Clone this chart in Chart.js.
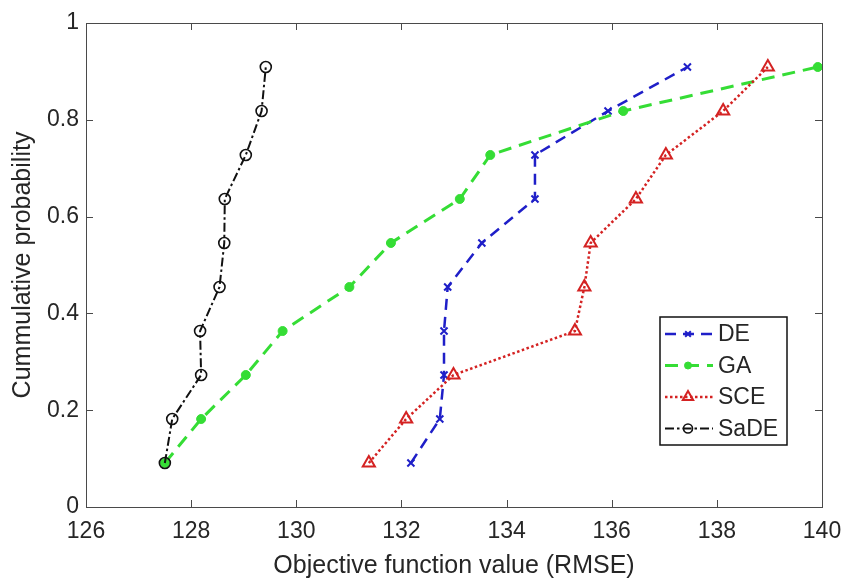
<!DOCTYPE html>
<html>
<head>
<meta charset="utf-8">
<script src="https://cdn.jsdelivr.net/npm/chart.js@4.4.1/dist/chart.umd.min.js"></script>
<style>
  html, body { margin: 0; padding: 0; background: #fff; }
</style>
</head>
<body>
<canvas id="cdfChart" width="844" height="581"></canvas>
<script>
// cumulative probability levels (k/11)
const probs = [0.0909, 0.1818, 0.2727, 0.3636, 0.4545, 0.5455, 0.6364, 0.7273, 0.8182, 0.9091];
// objective function values
const deVals   = [132.18, 132.73, 132.81, 132.81, 132.88, 133.53, 134.54, 134.54, 135.93, 137.44];
const gaVals   = [127.50, 128.19, 129.04, 129.74, 131.01, 131.80, 133.11, 133.69, 136.22, 139.92];
const sceVals  = [131.38, 132.09, 132.99, 135.30, 135.48, 135.60, 136.46, 137.03, 138.12, 138.97];
const sadeVals = [127.50, 127.64, 128.19, 128.17, 128.54, 128.63, 128.64, 129.04, 129.34, 129.42];

const seriesNames = ['DE', 'GA', 'SCE', 'SaDE'];
const xTicks = [126, 128, 130, 132, 134, 136, 138, 140];
const yTicks = [0, 0.2, 0.4, 0.6, 0.8, 1];

const fontFam = '"Liberation Sans", Arial, Helvetica, sans-serif';
const axisColor = '#4a4a4a';
const textColor = '#262626';

function pts(xs) {
  return xs.map((v, i) => ({ x: v, y: probs[i] }));
}

// box around the axes with MATLAB-like inward ticks on all four sides
const frame = {
  id: 'frame',
  afterDatasetsDraw(chart) {
    const { ctx, chartArea: a, scales } = chart;
    ctx.save();
    ctx.strokeStyle = axisColor;
    ctx.lineWidth = 1;
    ctx.setLineDash([]);
    ctx.strokeRect(a.left + 0.5, a.top + 0.5, a.right - a.left, a.bottom - a.top);
    ctx.beginPath();
    xTicks.forEach(v => {
      const px = Math.round(scales.x.getPixelForValue(v)) + 0.5;
      ctx.moveTo(px, a.bottom); ctx.lineTo(px, a.bottom - 7);
      ctx.moveTo(px, a.top); ctx.lineTo(px, a.top + 7);
    });
    yTicks.forEach(v => {
      const py = Math.round(scales.y.getPixelForValue(v)) + 0.5;
      ctx.moveTo(a.left, py); ctx.lineTo(a.left + 7, py);
      ctx.moveTo(a.right, py); ctx.lineTo(a.right - 7, py);
    });
    ctx.stroke();
    ctx.restore();
  }
};

// boxed legend inside the lower right of the plot
const boxLegend = {
  id: 'boxLegend',
  afterDraw(chart) {
    const { ctx, chartArea: a } = chart;
    const w = 127, h = 128;
    const x0 = a.right - 35 - w;
    const y0 = a.top + 294;
    ctx.save();
    ctx.fillStyle = '#fff';
    ctx.fillRect(x0, y0, w, h);
    ctx.strokeStyle = '#111';
    ctx.lineWidth = 1.5;
    ctx.strokeRect(x0, y0, w, h);
    chart.data.datasets.forEach((ds, i) => {
      const cy = y0 + 17 + i * 31.5;
      ctx.strokeStyle = ds.borderColor;
      ctx.lineWidth = ds.borderWidth;
      ctx.setLineDash(ds.borderDash || []);
      ctx.beginPath();
      ctx.moveTo(x0 + 5, cy);
      ctx.lineTo(x0 + 53, cy);
      ctx.stroke();
      ctx.setLineDash([]);
      ctx.strokeStyle = ds.pointBorderColor;
      ctx.fillStyle = ds.pointBackgroundColor;
      ctx.lineWidth = ds.pointBorderWidth;
      Chart.helpers.drawPoint(ctx, {
        pointStyle: ds.pointStyle,
        rotation: 0,
        radius: ds.pointRadius - 1,
        borderWidth: ds.pointBorderWidth
      }, x0 + 28, cy);
      ctx.fillStyle = textColor;
      ctx.font = '23px ' + fontFam;
      ctx.textBaseline = 'middle';
      ctx.fillText(ds.label, x0 + 58, cy + 1);
    });
    ctx.restore();
  }
};

const ctx = document.getElementById('cdfChart').getContext('2d');
new Chart(ctx, {
  type: 'line',
  data: {
    datasets: [
      {
        label: seriesNames[0],
        data: pts(deVals),
        borderColor: '#1f1fc8',
        borderWidth: 2.5,
        borderDash: [11, 7],
        pointStyle: 'crossRot',
        pointRadius: 5,
        pointBorderWidth: 2,
        pointBorderColor: '#1f1fc8',
        pointBackgroundColor: '#1f1fc8',
        order: 4
      },
      {
        label: seriesNames[1],
        data: pts(gaVals),
        borderColor: '#35dd35',
        borderWidth: 3,
        borderDash: [13, 8],
        pointStyle: 'circle',
        pointRadius: 4.5,
        pointBorderWidth: 1,
        pointBorderColor: '#35dd35',
        pointBackgroundColor: '#35dd35',
        order: 3
      },
      {
        label: seriesNames[2],
        data: pts(sceVals),
        borderColor: '#d42222',
        borderWidth: 2.5,
        borderDash: [2.5, 2.5],
        pointStyle: 'triangle',
        pointRadius: 7,
        pointBorderWidth: 2,
        pointBorderColor: '#d42222',
        pointBackgroundColor: 'rgba(255,255,255,0)',
        order: 2
      },
      {
        label: seriesNames[3],
        data: pts(sadeVals),
        borderColor: '#111111',
        borderWidth: 2,
        borderDash: [9, 3, 2.5, 3],
        pointStyle: 'circle',
        pointRadius: 5.5,
        pointBorderWidth: 1.6,
        pointBorderColor: '#111111',
        pointBackgroundColor: 'rgba(255,255,255,0)',
        order: 1
      }
    ]
  },
  options: {
    responsive: false,
    animation: false,
    layout: { padding: { left: 0, right: 22, top: 23, bottom: 0 } },
    plugins: {
      legend: { display: false },
      tooltip: { enabled: false }
    },
    elements: { line: { tension: 0, fill: false } },
    scales: {
      x: {
        type: 'linear',
        min: 126,
        max: 140,
        afterBuildTicks: s => { s.ticks = xTicks.map(v => ({ value: v })); },
        afterFit: s => { s.height = 74; s.paddingLeft = 0; s.paddingRight = 0; },
        grid: { display: false, drawTicks: false },
        border: { display: false },
        ticks: {
          font: { family: fontFam, size: 23 },
          color: textColor,
          padding: 11,
          maxRotation: 0,
          callback: v => String(v)
        },
        title: {
          display: true,
          text: 'Objective function value (RMSE)',
          font: { family: fontFam, size: 25 },
          color: textColor,
          padding: { top: 0, bottom: 0 }
        }
      },
      y: {
        type: 'linear',
        min: 0,
        max: 1,
        afterBuildTicks: s => { s.ticks = yTicks.map(v => ({ value: v })); },
        afterFit: s => { s.width = 86; s.paddingTop = 0; s.paddingBottom = 0; },
        grid: { display: false, drawTicks: false },
        border: { display: false },
        ticks: {
          font: { family: fontFam, size: 23 },
          color: textColor,
          padding: 7,
          callback: v => String(v)
        },
        title: {
          display: true,
          text: 'Cummulative probability',
          font: { family: fontFam, size: 25 },
          color: textColor,
          padding: { top: 8, bottom: 0 }
        }
      }
    }
  },
  plugins: [frame, boxLegend]
});
</script>
</body>
</html>
